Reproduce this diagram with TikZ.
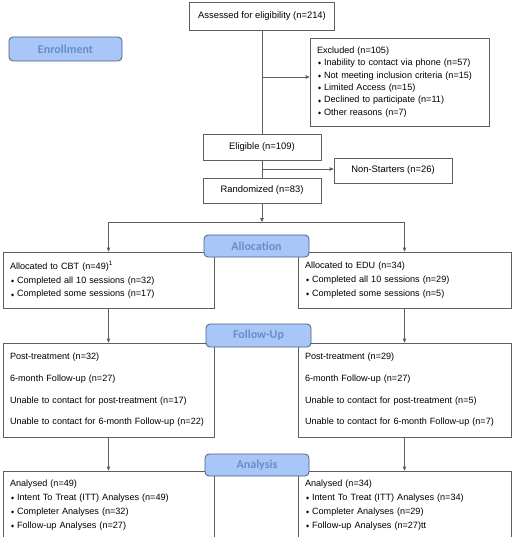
\documentclass[tikz,border=0pt]{standalone}
\usepackage{fontspec}
\setmainfont{Liberation Sans}
\newfontfamily\phasefont{Carlito}
\newfontfamily\symfont{DejaVu Sans}
\usetikzlibrary{arrows.meta}

\definecolor{boxgray}{HTML}{5F5F5F}
\definecolor{phasefill}{HTML}{A8C6F8}
\definecolor{phaseedge}{HTML}{4E5F7C}
\definecolor{phasetext}{HTML}{6A8CC8}

% small diamond bullet
\newcommand{\dia}{\hspace*{1pt}{\symfont\fontsize{4}{4}\selectfont\raisebox{0.4ex}{◆}}\hspace{3pt}}

\begin{document}
\begin{tikzpicture}[x=1pt, y=-1pt,
  box/.style={draw=boxgray, line width=0.8pt, inner sep=0pt,
    font=\fontsize{9.4}{11}\selectfont},
  listbox/.style={draw=boxgray, line width=0.8pt, inner xsep=7pt, inner ysep=0pt,
    align=left, font=\fontsize{9.1}{12.4}\selectfont},
  phase/.style={draw=phaseedge, line width=0.8pt, fill=phasefill, rounded corners=4pt,
    text=phasetext, inner sep=0pt, font=\phasefont\bfseries\fontsize{12}{12}\selectfont},
  link/.style={draw=boxgray, line width=0.8pt},
  arr/.style={-{Triangle[length=4pt,width=3.6pt]}}]
  \useasboundingbox (0,0) rectangle (516,537);
  \clip (0,0) rectangle (516,537);
  % Enrollment boxes.
  \node[box, minimum width=145pt, minimum height=28pt] (assess) at (262,16)
    {Assessed for eligibility (n=214)};
  \node[listbox, text width=165pt, minimum height=88pt] (excl) at (399.5,82)
    {Excluded (n=105)\\
     \dia Inability to contact via phone (n=57)\\
     \dia Not meeting inclusion criteria (n=15)\\
     \dia Limited Access (n=15)\\
     \dia Declined to participate (n=11)\\
     \dia Other reasons (n=7)};
  \node[box, minimum width=118pt, minimum height=26pt] (elig) at (262,147)
    {Eligible (n=109)};
  \node[box, minimum width=118pt, minimum height=25pt] (nonst) at (393,170.5)
    {Non-Starters (n=26)};
  \node[box, minimum width=118pt, minimum height=25pt] (rand) at (262,190.5)
    {Randomized (n=83)};
  % Allocation boxes.
  \node[listbox, text width=197pt, minimum height=56pt,
        font=\fontsize{9.1}{13.8}\selectfont] (cbt) at (108.5,280)
    {Allocated to CBT (n=49)\textsuperscript{1}\\
     \dia Completed all 10 sessions (n=32)\\
     \dia Completed some sessions (n=17)};
  \node[listbox, text width=199pt, minimum height=56pt,
        font=\fontsize{9.1}{13.8}\selectfont] (edu) at (404.5,280)
    {Allocated to EDU (n=34)\\
     \dia Completed all 10 sessions (n=29)\\
     \dia Completed some sessions (n=5)};
  % Follow-up boxes.
  \node[listbox, text width=197pt, minimum height=94pt,
        font=\fontsize{9.1}{21.7}\selectfont] (fu1) at (108.5,390)
    {Post-treatment (n=32)\\
     6-month Follow-up (n=27)\\
     Unable to contact for post-treatment (n=17)\\
     Unable to contact for 6-month Follow-up (n=22)};
  \node[listbox, text width=199pt, minimum height=94pt,
        font=\fontsize{9.1}{21.7}\selectfont] (fu2) at (404.5,390)
    {Post-treatment (n=29)\\
     6-month Follow-up (n=27)\\
     Unable to contact for post-treatment (n=5)\\
     Unable to contact for 6-month Follow-up (n=7)};
  % Analysis boxes (run off the bottom edge).
  \node[listbox, text width=197pt, minimum height=69pt,
        font=\fontsize{9.1}{14}\selectfont] (an1) at (108.5,505.5)
    {Analysed (n=49)\\
     \dia Intent To Treat (ITT) Analyses (n=49)\\
     \dia Completer Analyses (n=32)\\
     \dia Follow-up Analyses (n=27)};
  \node[listbox, text width=199pt, minimum height=69pt,
        font=\fontsize{9.1}{14}\selectfont] (an2) at (404.5,505.5)
    {Analysed (n=34)\\
     \dia Intent To Treat (ITT) Analyses (n=34)\\
     \dia Completer Analyses (n=29)\\
     \dia Follow-up Analyses (n=27)tt};
  % Connectors.
  \coordinate (exclbr) at (262,77);
  \coordinate (nonbr) at (262,169);
  \coordinate (split) at (262,222);
  \draw[link] (assess) -- (elig);
  \draw[link, arr] (exclbr) -- (exclbr -| excl.west);
  \draw[link] (elig) -- (rand);
  \draw[link, arr] (nonbr) -- (nonbr -| nonst.west);
  \draw[link, arr] (rand) -- (split);
  \draw[link, arr] (split) -| (cbt);
  \draw[link, arr] (split) -| (edu);
  \draw[link, arr] (cbt) -- (fu1);
  \draw[link, arr] (edu) -- (fu2);
  \draw[link, arr] (fu1) -- (an1);
  \draw[link, arr] (fu2) -- (an2);
  % Phase labels.
  \node[phase, minimum width=113pt, minimum height=24pt] (enroll) at (65.5,49) {Enrollment};
  \node[phase, minimum width=105pt, minimum height=22pt] (alloc) at (256.5,246) {Allocation};
  \node[phase, minimum width=105pt, minimum height=23pt] (follow) at (258.5,335.5) {Follow-Up};
  \node[phase, minimum width=104pt, minimum height=22pt] (analysis) at (257,465) {Analysis};
\end{tikzpicture}
\end{document}
